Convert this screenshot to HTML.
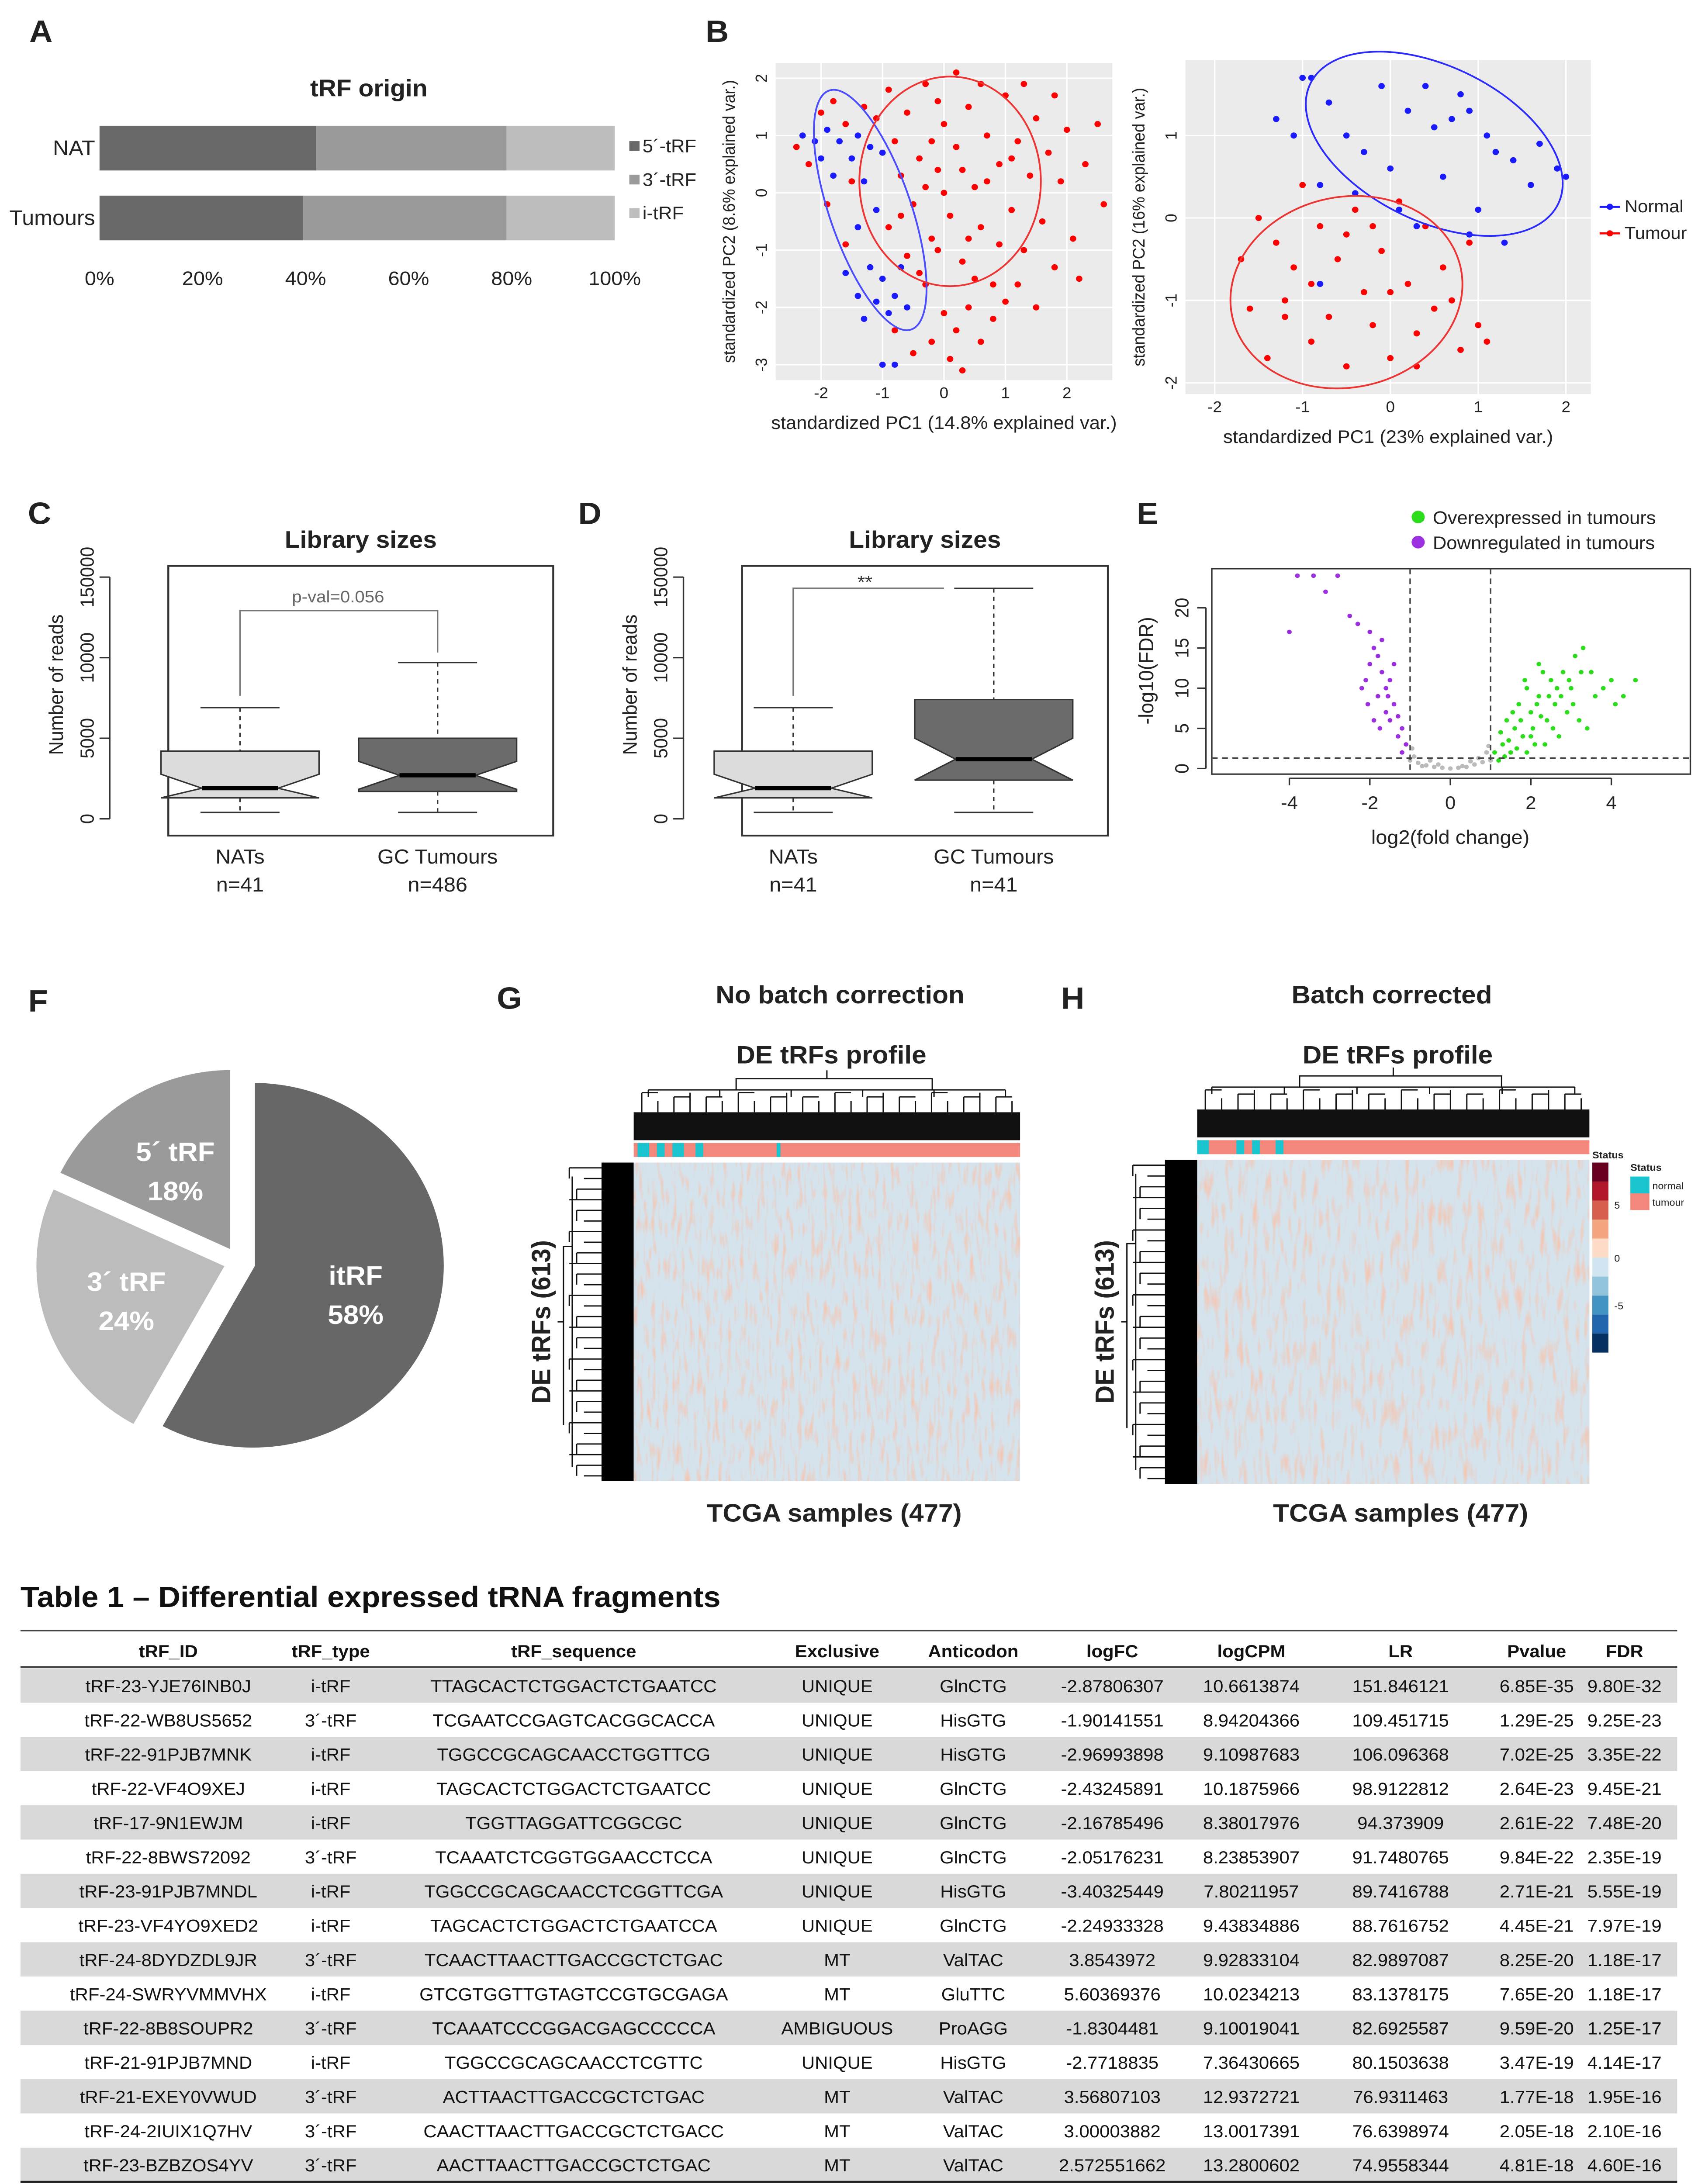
<!DOCTYPE html>
<html><head><meta charset="utf-8">
<style>
html,body{margin:0;padding:0;background:#fff;width:100%;height:100%;overflow:hidden;}
svg{display:block;width:100vw;height:100vh;font-family:"Liberation Sans",sans-serif;}
</style></head>
<body>
<svg id="fig" viewBox="0 0 1165 1563" preserveAspectRatio="none" xmlns="http://www.w3.org/2000/svg">
<defs>
<filter id="speck" x="0" y="0" width="100%" height="100%">
<feTurbulence type="fractalNoise" baseFrequency="0.35 0.06" numOctaves="2" seed="3"/>
<feColorMatrix type="matrix" values="0 0 0 0 0.93  0 0 0 0 0.55  0 0 0 0 0.42  3.0 0 0 0 -1.5"/>
</filter>
<filter id="speck2" x="0" y="0" width="100%" height="100%">
<feTurbulence type="fractalNoise" baseFrequency="0.3 0.05" numOctaves="2" seed="11"/>
<feColorMatrix type="matrix" values="0 0 0 0 0.93  0 0 0 0 0.55  0 0 0 0 0.42  3.0 0 0 0 -1.5"/>
</filter>
</defs>
<rect width="1165" height="1563" fill="#fff"/>
<g id="root"></g>
</svg>
<script>
// ---------- DATA ----------
const originCats = ["NAT","Tumours"];
const origin5 = [42, 39.5];
const origin3 = [37, 39.5];
const originI = [21, 21];

const b1Blue = [[-2.3,1.0],[-2.1,0.9],[-1.9,1.1],[-1.7,0.9],[-1.5,0.6],[-1.4,1.0],[-1.2,0.8],[-1.0,0.7],[-1.3,0.2],[-1.1,-0.3],[-1.4,-0.6],[-1.2,-1.3],[-1.0,-1.5],[-1.4,-1.8],[-1.1,-1.9],[-0.9,-2.1],[-1.3,-2.2],[-0.8,-1.8],[-0.6,-2.0],[-1.0,-3.0],[-0.8,-3.0],[-1.6,-1.4],[-0.7,-1.3],[-1.8,0.3],[-2.0,0.6]];
const b1Red = [[-2.4,0.8],[-2.2,0.5],[-2.0,1.4],[-1.8,1.6],[-1.6,1.2],[-1.5,0.2],[-1.3,1.5],[-1.1,1.3],[-0.9,1.8],[-0.8,0.9],[-0.7,0.3],[-0.6,1.4],[-0.5,-0.2],[-0.4,0.6],[-0.3,1.9],[-0.2,-0.8],[-0.1,0.4],[0,1.2],[0.1,-0.4],[0.2,0.8],[0.3,-1.2],[0.4,1.5],[0.5,0.1],[0.6,-0.6],[0.7,1.0],[0.8,-1.6],[0.9,0.5],[1.0,1.7],[1.1,-0.3],[1.2,0.9],[1.3,-1.0],[1.4,0.3],[1.5,1.3],[1.6,-0.5],[1.7,0.7],[1.8,-1.3],[1.9,0.2],[2.0,1.1],[2.1,-0.8],[2.3,0.5],[2.5,1.2],[2.6,-0.2],[-0.9,-0.6],[-0.6,-1.1],[-0.3,-1.6],[0,-2.1],[0.2,-2.4],[0.4,-2.0],[-0.2,-2.6],[0.1,-2.9],[0.3,-3.1],[-0.5,-2.8],[0.6,-2.6],[0.8,-2.2],[1.0,-1.9],[-0.4,-1.4],[-0.1,-1.0],[0.5,-1.5],[0.9,-0.9],[1.2,-1.6],[0.0,0.0],[-0.2,0.9],[0.3,0.4],[0.6,1.9],[0.2,2.1],[-0.7,-0.4],[1.3,1.9],[1.8,1.7],[2.2,-1.5],[-1.9,-0.2],[-1.6,-0.9],[-0.8,-2.4],[0.7,0.2],[0.4,-0.8],[-0.1,1.6],[1.5,-2.0],[1.1,0.6],[-0.3,0.1]];
const b2Blue = [[-1.3,1.2],[-1.1,1.0],[-0.9,1.7],[-0.7,1.4],[-0.5,1.0],[-0.3,0.8],[-0.1,1.6],[0,0.6],[0.2,1.3],[0.4,1.6],[0.5,1.1],[0.6,0.5],[0.7,1.2],[0.8,1.5],[0.9,1.3],[1.1,1.0],[1.2,0.8],[1.4,0.7],[1.6,0.4],[1.7,0.9],[1.9,0.6],[2.0,0.5],[-0.8,0.4],[-0.4,0.3],[0.1,0.1],[1.0,0.1],[1.3,-0.3],[-0.8,-0.8],[0.3,-0.1],[-1.0,1.7],[0.9,-0.2]];
const b2Red = [[-1.7,-0.5],[-1.6,-1.1],[-1.5,0.0],[-1.3,-0.3],[-1.2,-1.0],[-1.1,-0.6],[-1.0,0.4],[-0.9,-1.5],[-0.8,-0.1],[-0.7,-1.2],[-0.6,-0.5],[-0.5,-1.8],[-0.4,0.1],[-0.3,-0.9],[-0.2,-1.3],[-0.1,-0.4],[0,-1.7],[0.1,0.2],[0.2,-0.8],[0.3,-1.4],[0.4,-0.1],[0.5,-1.1],[0.6,-0.6],[0.8,-1.6],[0.9,-0.3],[1.0,-1.3],[1.1,-1.5],[-1.4,-1.7],[-0.5,-0.2],[0.0,-0.9],[0.7,-1.0],[-0.9,-0.8],[-1.2,-1.2],[0.3,-1.8],[-0.2,-0.1]];
const nat = {q1:1300,med:1900,q3:4200,lo:400,hi:6900};
const gc1 = {q1:1700,med:2700,q3:5000,lo:400,hi:9700};
const gc2 = {q1:2400,med:3700,q3:7400,lo:400,hi:14300};
const yTicks = [0,5000,10000,15000];
const yTickLabels = ["0","5000","10000","150000"];
const volGreen = [[1.2,1],[1.3,3],[1.5,2],[1.6,5],[1.8,4],[2.0,7],[2.1,3],[2.2,9],[2.4,6],[2.5,11],[2.6,8],[2.8,12],[3.0,10],[3.1,14],[3.3,15],[3.5,12],[3.8,10],[4.0,11],[4.3,9],[4.6,11],[1.4,6],[1.7,8],[1.9,10],[2.3,12],[2.7,4],[2.9,7],[3.2,6],[1.1,2],[1.25,4.5],[1.55,7],[2.05,5],[2.35,3],[2.65,10],[3.6,9],[4.1,8],[1.9,2],[2.2,13],[3.4,5],[1.35,1.5],[1.45,3.5],[1.65,2.5],[1.75,6],[2.15,8],[2.45,9],[2.55,5],[2.75,9],[2.95,11],[3.05,8],[3.25,12],[1.85,11],[2.0,4],[2.25,6.5]];
const volPurple = [[-1.1,3],[-1.2,5],[-1.4,8],[-1.5,6],[-1.6,10],[-1.7,12],[-1.8,14],[-1.9,15],[-2.0,13],[-1.3,4],[-1.6,7],[-1.8,9],[-2.1,11],[-1.5,11],[-1.9,6],[-1.2,2],[-2.2,10],[-2.0,17],[-2.3,18],[-4.0,17],[-3.8,24],[-3.4,24],[-2.8,24],[-2.5,19],[-3.1,22],[-1.4,13],[-1.7,16],[-1.3,6.5],[-1.55,9],[-1.75,5],[-2.05,8]];
const volGrey = [[-1,1],[-0.8,0.7],[-0.6,0.4],[-0.4,0.2],[-0.2,0.1],[0,0],[0.2,0.1],[0.4,0.2],[0.6,0.5],[0.8,0.8],[1,1],[-0.9,1.5],[0.9,2],[-0.7,0.3],[0.5,0.9],[-0.3,0.5],[0.3,0.3],[-0.95,2.5],[0.95,2.8],[-0.5,1.0],[0.7,1.3]];
const pieLabels = ["itRF","3´ tRF","5´ tRF"];
const pieValues = [58,24,18];
const tblHead = ["tRF_ID","tRF_type","tRF_sequence","Exclusive","Anticodon","logFC","logCPM","LR","Pvalue","FDR"];
const tblRows = [
["tRF-23-YJE76INB0J","i-tRF","TTAGCACTCTGGACTCTGAATCC","UNIQUE","GlnCTG","-2.87806307","10.6613874","151.846121","6.85E-35","9.80E-32"],
["tRF-22-WB8US5652","3´-tRF","TCGAATCCGAGTCACGGCACCA","UNIQUE","HisGTG","-1.90141551","8.94204366","109.451715","1.29E-25","9.25E-23"],
["tRF-22-91PJB7MNK","i-tRF","TGGCCGCAGCAACCTGGTTCG","UNIQUE","HisGTG","-2.96993898","9.10987683","106.096368","7.02E-25","3.35E-22"],
["tRF-22-VF4O9XEJ","i-tRF","TAGCACTCTGGACTCTGAATCC","UNIQUE","GlnCTG","-2.43245891","10.1875966","98.9122812","2.64E-23","9.45E-21"],
["tRF-17-9N1EWJM","i-tRF","TGGTTAGGATTCGGCGC","UNIQUE","GlnCTG","-2.16785496","8.38017976","94.373909","2.61E-22","7.48E-20"],
["tRF-22-8BWS72092","3´-tRF","TCAAATCTCGGTGGAACCTCCA","UNIQUE","GlnCTG","-2.05176231","8.23853907","91.7480765","9.84E-22","2.35E-19"],
["tRF-23-91PJB7MNDL","i-tRF","TGGCCGCAGCAACCTCGGTTCGA","UNIQUE","HisGTG","-3.40325449","7.80211957","89.7416788","2.71E-21","5.55E-19"],
["tRF-23-VF4YO9XED2","i-tRF","TAGCACTCTGGACTCTGAATCCA","UNIQUE","GlnCTG","-2.24933328","9.43834886","88.7616752","4.45E-21","7.97E-19"],
["tRF-24-8DYDZDL9JR","3´-tRF","TCAACTTAACTTGACCGCTCTGAC","MT","ValTAC","3.8543972","9.92833104","82.9897087","8.25E-20","1.18E-17"],
["tRF-24-SWRYVMMVHX","i-tRF","GTCGTGGTTGTAGTCCGTGCGAGA","MT","GluTTC","5.60369376","10.0234213","83.1378175","7.65E-20","1.18E-17"],
["tRF-22-8B8SOUPR2","3´-tRF","TCAAATCCCGGACGAGCCCCCA","AMBIGUOUS","ProAGG","-1.8304481","9.10019041","82.6925587","9.59E-20","1.25E-17"],
["tRF-21-91PJB7MND","i-tRF","TGGCCGCAGCAACCTCGTTC","UNIQUE","HisGTG","-2.7718835","7.36430665","80.1503638","3.47E-19","4.14E-17"],
["tRF-21-EXEY0VWUD","3´-tRF","ACTTAACTTGACCGCTCTGAC","MT","ValTAC","3.56807103","12.9372721","76.9311463","1.77E-18","1.95E-16"],
["tRF-24-2IUIX1Q7HV","3´-tRF","CAACTTAACTTGACCGCTCTGACC","MT","ValTAC","3.00003882","13.0017391","76.6398974","2.05E-18","2.10E-16"],
["tRF-23-BZBZOS4YV","3´-tRF","AACTTAACTTGACCGCTCTGAC","MT","ValTAC","2.572551662","13.2800602","74.9558344","4.81E-18","4.60E-16"]];

// ---------- HELPERS ----------
const NS="http://www.w3.org/2000/svg";
const root=document.getElementById('root');
function el(tag,attrs,parent,txt){const e=document.createElementNS(NS,tag);for(const k in attrs)e.setAttribute(k,attrs[k]);if(txt!==undefined)e.textContent=txt;(parent||root).appendChild(e);return e;}
function T(x,y,s,size,opts,parent){opts=opts||{};const e=el('text',Object.assign({x:x,y:y,'font-size':size,'text-anchor':opts.a||'middle',fill:opts.fill||'#222'},opts.bold?{'font-weight':'bold'}:{},opts.rot?{transform:`rotate(${opts.rot} ${x} ${y})`}:{}),parent,s);


return e;}
function G(name){const g=el('g',{});


return g;}
function lin(d0,d1,r0,r1){return v=>r0+(v-d0)*(r1-r0)/(d1-d0);}

// ---------- PANEL A ----------
(function(){const g=G('panel-a');
T(28,30,'A',22,{bold:1,name:'panel-letter-a'},g);
T(252,69,'tRF origin',17,{bold:1,name:'chart-title-a'},g);
const x=lin(0,100,68,420);const rows=[90,140];
originCats.forEach((c,i)=>{let s=0;[[origin5,'#686868'],[origin3,'#9a9a9a'],[originI,'#bdbdbd']].forEach(([arr,col],k)=>{const r=el('rect',{x:x(s),y:rows[i],width:x(s+arr[i])-x(s),height:32,fill:col},g);


s+=arr[i];});
T(65,rows[i]+21,c,15,{a:'end',name:'category-label'},g);});
[0,20,40,60,80,100].forEach(v=>T(x(v),204,v+'%',14,{name:'x-tick'},g));
[['5´-tRF','#686868',109],['3´-tRF','#9a9a9a',133],['i-tRF','#bdbdbd',157]].forEach(([l,c,y])=>{el('rect',{x:430,y:y-8,width:7,height:7,fill:c},g);T(439,y,l,13,{a:'start',name:'legend-entry'},g);});
})();

// ---------- PANEL B ----------
function pca(name,x0,x1,y0,y1,xs,ys,xt,yt,blue,red,ells,xl,yl){const g=G(name);
el('rect',{x:x0,y:y0,width:x1-x0,height:y1-y0,fill:'#ebebeb'},g);
xt.forEach(v=>{el('line',{x1:xs(v),x2:xs(v),y1:y0,y2:y1,stroke:'#fff','stroke-width':1},g);T(xs(v),y1+13,String(v),11,{name:'x-tick'},g);});
yt.forEach(v=>{el('line',{x1:x0,x2:x1,y1:ys(v),y2:ys(v),stroke:'#fff','stroke-width':1},g);T(x0-6,ys(v),String(v),11,{rot:-90,name:'y-tick'},g);});
red.forEach(p=>{const c=el('circle',{cx:xs(p[0]),cy:ys(p[1]),r:2.2,fill:'#f00'},g);

});
blue.forEach(p=>{const c=el('circle',{cx:xs(p[0]),cy:ys(p[1]),r:2.2,fill:'#1a1aff'},g);

});
ells.forEach(e=>{el('ellipse',{cx:xs(e[0]),cy:ys(e[1]),rx:e[2],ry:e[3],transform:`rotate(${e[4]} ${xs(e[0])} ${ys(e[1])})`,fill:'none',stroke:e[5],'stroke-width':1.2},g);});
T((x0+x1)/2,y1+35,xl,13,{name:'x-axis-title'},g);
T(x0-28,(y0+y1)/2,yl,11.5,{rot:-90,name:'y-axis-title'},g);
return g;}
T(490,30,'B',22,{bold:1,name:'panel-letter-b'});
pca('pca-left',530,760,45,272,lin(0,1,645,687),lin(0,1,138,97),[-2,-1,0,1,2],[-3,-2,-1,0,1,2],b1Blue,b1Red,
[[-1.2,-0.3,28,90,-18,'#4b4bff'],[0.1,0.2,62,75,0,'#e33']],'standardized PC1 (14.8% explained var.)','standardized PC2 (8.6% explained var.)');
const g2=pca('pca-right',810,1087,43,282,lin(0,1,950,1010),lin(0,1,156,97),[-2,-1,0,1,2],[-2,-1,0,1],b2Blue,b2Red,
[[0.5,0.9,95,55,28,'#2a2aff'],[-0.5,-0.9,80,68,-15,'#e33']],'standardized PC1 (23% explained var.)','standardized PC2 (16% explained var.)');
[['Normal','#1a1aff',148],['Tumour','#f00',167]].forEach(([l,c,y])=>{el('line',{x1:1093,x2:1107,y1:y,y2:y,stroke:c,'stroke-width':1.5},g2);el('circle',{cx:1100,cy:y,r:2.2,fill:c},g2);T(1110,y+4,l,12.5,{a:'start',name:'legend-entry'},g2);});

// ---------- PANELS C/D ----------
function boxplot(name,letter,lx,fx0,fx1,title,boxes,ns){const g=G(name);
const ys=lin(0,15000,586,413);
T(lx,375,letter,22,{bold:1,name:'panel-letter'},g);
T((fx0+fx1)/2,392,title,17,{bold:1,name:'chart-title'},g);
el('rect',{x:fx0,y:405,width:fx1-fx0,height:193,fill:'none',stroke:'#333','stroke-width':1.3},g);
yTicks.forEach((v,i)=>{el('line',{x1:fx0-40,x2:fx0-47,y1:ys(v),y2:ys(v),stroke:'#333'},g);T(fx0-51,ys(v),yTickLabels[i],13,{rot:-90,name:'y-tick'},g);});
el('line',{x1:fx0-40,x2:fx0-40,y1:ys(0),y2:ys(15000),stroke:'#333'},g);
T(fx0-72,490,'Number of reads',13.5,{rot:-90,name:'y-axis-title'},g);
boxes.forEach((b,i)=>{const cx=b.cx,w=54,nw=26;const fill=i?'#6b6b6b':'#dcdcdc';
el('line',{x1:cx,x2:cx,y1:ys(b.hi),y2:ys(b.q3),stroke:'#333','stroke-dasharray':'3,3'},g);
el('line',{x1:cx,x2:cx,y1:ys(b.q1),y2:ys(b.lo),stroke:'#333','stroke-dasharray':'3,3'},g);
el('line',{x1:cx-27,x2:cx+27,y1:ys(b.hi),y2:ys(b.hi),stroke:'#333'},g);
el('line',{x1:cx-27,x2:cx+27,y1:ys(b.lo),y2:ys(b.lo),stroke:'#333'},g);
const ym=ys(b.med),yq1=ys(b.q1),yq3=ys(b.q3),nd=b.d;
const pts=[[cx-w,yq3],[cx+w,yq3],[cx+w,Math.max(yq3,ym-nd)],[cx+nw,ym],[cx+w,Math.min(yq1,ym+nd)],[cx+w,yq1],[cx-w,yq1],[cx-w,Math.min(yq1,ym+nd)],[cx-nw,ym],[cx-w,Math.max(yq3,ym-nd)]];
const p=el('polygon',{points:pts.map(q=>q.join(',')).join(' '),fill:fill,stroke:'#333'},g);


el('line',{x1:cx-nw,x2:cx+nw,y1:ym,y2:ym,stroke:'#000','stroke-width':3},g);
T(cx,618,i?'GC Tumours':'NATs',14.5,{name:'x-label'},g);T(cx,638,'n='+ns[i],14.5,{name:'x-label-n'},g);});
return {g,ys};}
const c=boxplot('panel-c','C',27,115,378,'Library sizes',[Object.assign({cx:164,d:10},nat),Object.assign({cx:299,d:10},gc1)],[41,486]);
el('path',{d:'M164,498 V437 H299 V467',fill:'none',stroke:'#777'},c.g);T(231,431,'p-val=0.056',12,{fill:'#666',name:'p-value'},c.g);
const dd=boxplot('panel-d','D',403,507,757,'Library sizes',[Object.assign({cx:542,d:10},nat),Object.assign({cx:679,d:15},gc2)],[41,41]);
el('path',{d:'M542,498 V421 H645',fill:'none',stroke:'#777'},dd.g);T(591,421,'**',13,{fill:'#333',name:'significance'},dd.g);

// ---------- PANEL E ----------
(function(){const g=G('panel-e');T(784,375,'E',22,{bold:1,name:'panel-letter-e'},g);
const xs=lin(0,2,991,1046),ys=lin(0,20,550,435);
el('rect',{x:828,y:407,width:327,height:147,fill:'none',stroke:'#333'},g);
[-4,-2,0,2,4].forEach(v=>{el('line',{x1:xs(v),x2:xs(v),y1:557,y2:562,stroke:'#333'},g);T(xs(v),579,String(v),13,{name:'x-tick'},g);});
el('line',{x1:xs(-4),x2:xs(4),y1:557,y2:557,stroke:'#333'},g);
[0,5,10,15,20].forEach(v=>{el('line',{x1:818,x2:824,y1:ys(v),y2:ys(v),stroke:'#333'},g);T(812,ys(v),String(v),13,{rot:-90,name:'y-tick'},g);});
el('line',{x1:824,x2:824,y1:ys(0),y2:ys(20),stroke:'#333'},g);
T(991,604,'log2(fold change)',14,{name:'x-axis-title'},g);T(788,480,'-log10(FDR)',14,{rot:-90,name:'y-axis-title'},g);
[[volGrey,'#bbb'],[volGreen,'#2ddc1c'],[volPurple,'#9b30e0']].forEach(([arr,col])=>arr.forEach(p=>{const c=el('circle',{cx:xs(p[0]),cy:ys(p[1]),r:1.6,fill:col},g);

}));
[-1,1].forEach(v=>el('line',{x1:xs(v),x2:xs(v),y1:407,y2:554,stroke:'#444','stroke-dasharray':'4,3'},g));
el('line',{x1:828,x2:1155,y1:ys(1.3),y2:ys(1.3),stroke:'#444','stroke-dasharray':'4,3'},g);
[['Overexpressed in tumours','#2ddc1c',375],['Downregulated in tumours','#9b30e0',393]].forEach(([l,c,y])=>{el('circle',{cx:969,cy:y-5,r:4.5,fill:c},g);T(979,y,l,13,{a:'start',name:'legend-entry'},g);});
})();

// ---------- PANEL F ----------
(function(){const g=G('panel-f');T(26,724,'F',22,{bold:1,name:'panel-letter-f'},g);
const cx=163,cy=903,R=132,cols=['#676767','#bcbcbc','#9a9a9a'],offs=[10,8,8];
const tot=pieValues.reduce((a,b)=>a+b,0);let a0=0;
pieValues.forEach((v,i)=>{const a1=a0+v/tot*360;const mid=(a0+a1)/2*Math.PI/180;
const ox=cx+offs[i]*Math.sin(mid),oy=cy-offs[i]*Math.cos(mid);
const p=(a)=>[ox+R*Math.sin(a*Math.PI/180),oy-R*Math.cos(a*Math.PI/180)];
const s=p(a0),e=p(a1);
const path=el('path',{d:`M${ox},${oy} L${s[0]},${s[1]} A${R},${R} 0 ${a1-a0>180?1:0} 1 ${e[0]},${e[1]} Z`,fill:cols[i],stroke:'#fff','stroke-width':3},g);


const lx=ox+R*0.55*Math.sin(mid),ly=oy-R*0.55*Math.cos(mid);
T(lx,ly-4,pieLabels[i],19,{bold:1,fill:'#fff',name:'slice-label'},g);T(lx,ly+24,v+'%',19,{bold:1,fill:'#fff',name:'slice-value'},g);
a0=a1;});
})();

// ---------- HEATMAPS ----------
function heat(name,letter,lx,title1,tx,hx0,hx1,hy0,hy1,filt,cyanPos){const g=G(name);
T(lx,722,letter,22,{bold:1,name:'panel-letter'},g);
T(tx,718,title1,18,{bold:1,name:'panel-title'},g);
T((hx0+hx1)/2+3,761,'DE tRFs profile',18,{bold:1,name:'heatmap-title'},g);
T((hx0+hx1)/2+5,1089,'TCGA samples (477)',18,{bold:1,name:'x-axis-title'},g);
T(hx0-57,(hy0+hy1)/2,'DE tRFs (613)',18,{bold:1,rot:-90,name:'y-axis-title'},g);
const top=hy0-16;
el('rect',{x:hx0,y:top-20,width:hx1-hx0,height:20,fill:'#111'},g);
let d='';const n=24;
for(let i=0;i<n;i++){const x=hx0+(i+0.5)*(hx1-hx0)/n;const h=(i%3==0?14:i%2?8:11);d+=`M${x},${top-20} V${top-20-h} `;}
for(let i=0;i<n;i+=2){const x=hx0+(i+0.5)*(hx1-hx0)/n,x2=hx0+(i+1.5)*(hx1-hx0)/n;const h=(i%3==0?14:11);d+=`M${x},${top-20-h} H${x2} `;}
d+=`M${hx0+10},${top-36} H${hx1-10} M${hx0+70},${top-36} V${top-44} H${hx1-60} V${top-36} M${(hx0+hx1)/2},${top-44} V${top-50}`;
for(let i=0;i<6;i++){const x=hx0+10+i*(hx1-hx0-20)/5;d+=`M${x},${top-36} V${top-31}`;}
el('path',{d:d,stroke:'#111',fill:'none','stroke-width':0.9},g);
el('rect',{x:hx0-22,y:hy0,width:22,height:hy1-hy0,fill:'#000'},g);
let d2='';for(let i=0;i<30;i++){const y=hy0+(i+0.5)*(hy1-hy0)/30;const w=(i%3==0?22:i%2?12:17);d2+=`M${hx0-22},${y} H${hx0-22-w} `;}
for(let i=0;i<30;i+=2){const y=hy0+(i+0.5)*(hy1-hy0)/30,y2=hy0+(i+1.5)*(hy1-hy0)/30;const w=(i%3==0?22:17);d2+=`M${hx0-22-w},${y} V${y2} `;}
d2+=`M${hx0-42},${hy0+10} V${hy1-10} M${hx0-42},${hy0+60} H${hx0-48} V${hy1-40} M${hx0-48},${(hy0+hy1)/2} H${hx0-52}`;
el('path',{d:d2,stroke:'#111',fill:'none','stroke-width':0.9},g);
el('rect',{x:hx0,y:hy0-14,width:hx1-hx0,height:10,fill:'#f4877c'},g);
cyanPos.forEach(p=>el('rect',{x:hx0+p[0]*(hx1-hx0),y:hy0-14,width:p[1]*(hx1-hx0),height:10,fill:'#1ac5cf'},g));
const hm=el('rect',{x:hx0,y:hy0,width:hx1-hx0,height:hy1-hy0,fill:'#d5e3ed'},g);


el('rect',{x:hx0,y:hy0,width:hx1-hx0,height:hy1-hy0,fill:'#fff',filter:`url(#${filt})`,opacity:0.85},g);
return g;}
heat('panel-g','G',348,'No batch correction',574,433,697,832,1060,'speck',[[0.01,0.03],[0.06,0.02],[0.1,0.03],[0.16,0.02],[0.37,0.01]]);
const gh=heat('panel-h','H',733,'Batch corrected',951,818,1086,830,1062,'speck2',[[0.0,0.03],[0.1,0.02],[0.14,0.02],[0.2,0.02]]);
T(1088,829,'Status',7,{a:'start',bold:1,name:'annotation-label'},gh);
const scale=['#67001f','#b2182b','#d6604d','#f4a582','#fddbc7','#d1e5f0','#92c5de','#4393c3','#2166ac','#053061'];
scale.forEach((c,i)=>el('rect',{x:1088,y:832+i*13.6,width:11,height:13.6,fill:c},gh));
[['5',865],['0',903],['-5',937]].forEach(([l,y])=>T(1103,y,l,7,{a:'start',name:'colorbar-tick'},gh));
T(1114,838,'Status',7,{a:'start',bold:1,name:'legend-title'},gh);
el('rect',{x:1114,y:842,width:13,height:12,fill:'#1ac5cf'},gh);el('rect',{x:1114,y:854,width:13,height:12,fill:'#f4877c'},gh);
T(1129,851,'normal',7,{a:'start',name:'legend-entry'},gh);T(1129,863,'tumour',7,{a:'start',name:'legend-entry'},gh);

// ---------- TABLE ----------
(function(){const g=G('table-1');
T(14,1150,'Table 1 – Differential expressed tRNA fragments',21,{a:'start',bold:1,fill:'#111',name:'table-title'},g);
const cols=[115,226,392,572,665,760,855,957,1050,1110];
el('line',{x1:14,x2:1146,y1:1167,y2:1167,stroke:'#444','stroke-width':1},g);
tblHead.forEach((h,i)=>T(cols[i],1186,h,12.5,{bold:1,fill:'#111',name:'column-header'},g));
el('line',{x1:14,x2:1146,y1:1193,y2:1193,stroke:'#444','stroke-width':1.3},g);
const rh=24.5;
tblRows.forEach((r,j)=>{const y0=1194+j*rh;if(j%2==0)el('rect',{x:14,y:y0,width:1132,height:rh,fill:'#d9d9d9'},g);
r.forEach((v,i)=>T(cols[i],y0+17,v,12.5,{fill:'#111',name:'table-cell'},g));});
el('line',{x1:14,x2:1146,y1:1194+15*rh,y2:1194+15*rh,stroke:'#222','stroke-width':1.5},g);
})();
</script>
</body></html>
